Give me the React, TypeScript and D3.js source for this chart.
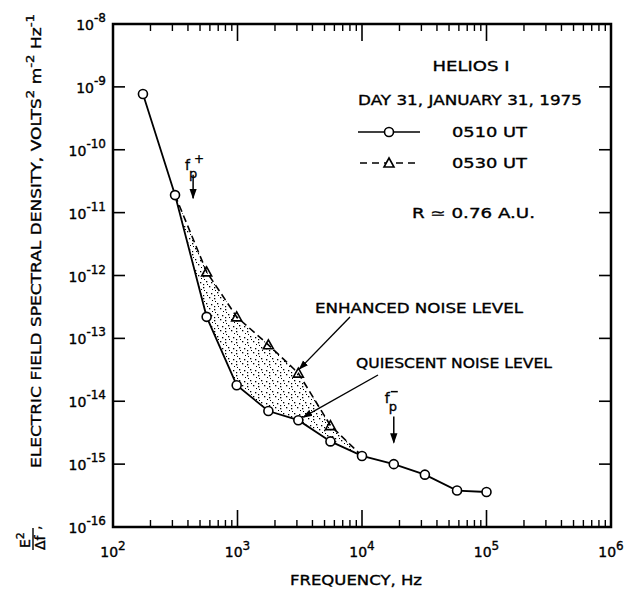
import React from "react";
import * as d3 from "d3";

// Quiescent noise level (0510 UT)
const freqQ = [174, 315, 565, 985, 1770, 3080, 5580, 10000, 18000, 32000, 58000, 100000];
const psdQ = [7.7e-10, 1.9e-11, 2.2e-13, 1.8e-14, 7.0e-15, 5.0e-15, 2.3e-15, 1.35e-15, 1.0e-15, 6.8e-16, 3.8e-16, 3.6e-16];
// Enhanced noise level (0530 UT)
const freqE = [315, 565, 985, 1770, 3080, 5580, 10000];
const psdE = [1.9e-11, 1.14e-12, 2.2e-13, 7.9e-14, 2.8e-14, 4.1e-15, 1.35e-15];
const triIdx = [1, 2, 3, 4, 5];

const xTickExp = [2, 3, 4, 5, 6];
const yTickExp = [-8, -9, -10, -11, -12, -13, -14, -15, -16];

const W = 632, H = 599;
const M = { left: 113, right: 611, top: 24, bottom: 527 };
const FONT = "'DejaVu Sans', sans-serif";
const TS = { stroke: "#000", strokeWidth: 0.35 };

export default function App() {
  const x = d3.scaleLog().domain([1e2, 1e6]).range([M.left, M.right]);
  const y = d3.scaleLog().domain([1e-16, 1e-8]).range([M.bottom, M.top]);

  const q = freqQ.map((f, i) => [x(f), y(psdQ[i])] as [number, number]);
  const e = freqE.map((f, i) => [x(f), y(psdE[i])] as [number, number]);
  const line = d3.line();

  const qSub = freqQ
    .map((f, i) => [f, psdQ[i]])
    .filter(([f]) => f >= freqE[0] && f <= freqE[freqE.length - 1])
    .map(([f, p]) => [x(f), y(p)] as [number, number]);
  const region = [...e, ...qSub.slice().reverse()];

  const minorX: number[] = [];
  for (let d = 2; d < 6; d++) for (let k = 2; k <= 9; k++) minorX.push(k * Math.pow(10, d));

  const tri = (cx: number, cy: number, s = 5) =>
    `M${cx},${cy - s}L${cx + s},${cy + s * 0.8}L${cx - s},${cy + s * 0.8}Z`;

  const fpPlus = 440, fpMinus = 18000;

  return (
    <svg width={W} height={H} style={{ position: "absolute", left: 0, top: 0, background: "#fff" }} fontFamily={FONT}>
      <defs>
        <pattern id="stip" width="11" height="11" patternUnits="userSpaceOnUse">
          <rect x="0" y="0" width="1.3" height="1.3" fill="#000" />
          <rect x="5" y="1" width="1.3" height="1.3" fill="#000" />
          <rect x="8" y="6" width="1.3" height="1.3" fill="#000" />
          <rect x="2" y="7" width="1.3" height="1.3" fill="#000" />
          <rect x="6" y="4" width="1" height="1" fill="#000" />
          <rect x="3" y="3" width="1" height="1" fill="#000" />
          <rect x="9" y="9" width="1" height="1" fill="#000" />
          <rect x="5" y="9" width="1.2" height="1.2" fill="#000" />
        </pattern>
        <marker id="ah" viewBox="0 0 10 10" refX="9" refY="5" markerWidth="7" markerHeight="7" orient="auto">
          <path d="M0,1.5L10,5L0,8.5Z" fill="#000" />
        </marker>
      </defs>
      <rect width={W} height={H} fill="#fff" />

      <path d={line(region) + "Z"} fill="url(#stip)" stroke="none" />

      <rect x={M.left} y={M.top} width={M.right - M.left} height={M.bottom - M.top} fill="none" stroke="#000" strokeWidth={2.5} />

      {xTickExp.map((d) => (
        <g key={"xt" + d}>
          <line x1={x(10 ** d)} x2={x(10 ** d)} y1={M.bottom} y2={M.bottom - 17} stroke="#000" strokeWidth={1.6} />
          <line x1={x(10 ** d)} x2={x(10 ** d)} y1={M.top} y2={M.top + 17} stroke="#000" strokeWidth={1.6} />
        </g>
      ))}
      {minorX.map((v) => (
        <g key={"mx" + v}>
          <line x1={x(v)} x2={x(v)} y1={M.bottom} y2={M.bottom - 7} stroke="#000" strokeWidth={1.4} />
          <line x1={x(v)} x2={x(v)} y1={M.top} y2={M.top + 7} stroke="#000" strokeWidth={1.4} />
        </g>
      ))}
      {yTickExp.map((d) => (
        <g key={"yt" + d}>
          <line x1={M.left} x2={M.left + 12} y1={y(10 ** d)} y2={y(10 ** d)} stroke="#000" strokeWidth={1.6} />
          <line x1={M.right} x2={M.right - 12} y1={y(10 ** d)} y2={y(10 ** d)} stroke="#000" strokeWidth={1.6} />
        </g>
      ))}

      <g {...TS}>
        {xTickExp.map((d) => (
          <text key={"xl" + d} x={x(10 ** d)} y={557} textAnchor="middle" fontSize={14}>
            <tspan>10</tspan>
            <tspan dy={-7} fontSize={12}>{d}</tspan>
          </text>
        ))}
        {yTickExp.map((d) => (
          <text key={"yl" + d} x={106} y={y(10 ** d) + 6} textAnchor="end" fontSize={14}>
            <tspan>10</tspan>
            <tspan dy={-8} fontSize={12}>{"-" + Math.abs(d)}</tspan>
          </text>
        ))}

        <text x={356} y={585} textAnchor="middle" fontSize={14} textLength={132} lengthAdjust="spacingAndGlyphs">FREQUENCY, Hz</text>
        <g transform="translate(41,468) rotate(-90)">
          <text x={0} y={0} fontSize={14} textLength={454} lengthAdjust="spacingAndGlyphs">
            <tspan>ELECTRIC FIELD SPECTRAL DENSITY, VOLTS</tspan>
            <tspan dy={-7} fontSize={11}>2</tspan>
            <tspan dy={7}> m</tspan>
            <tspan dy={-7} fontSize={11}>-2</tspan>
            <tspan dy={7}> Hz</tspan>
            <tspan dy={-7} fontSize={11}>-1</tspan>
          </text>
          <text x={-80} y={-11} fontSize={14}>
            <tspan>E</tspan>
            <tspan dy={-6} fontSize={11}>2</tspan>
          </text>
          <line x1={-82} x2={-60} y1={-8} y2={-8} stroke="#000" strokeWidth={1.4} />
          <text x={-82} y={4} fontSize={14}>Δf</text>
          <text x={-62} y={-1} fontSize={14}>,</text>
        </g>

        <text x={471} y={71} textAnchor="middle" fontSize={14} textLength={77} lengthAdjust="spacingAndGlyphs">HELIOS I</text>
        <text x={358} y={105} fontSize={14} textLength={224} lengthAdjust="spacingAndGlyphs">DAY 31, JANUARY 31, 1975</text>
        <text x={452} y={137} fontSize={14} textLength={75} lengthAdjust="spacingAndGlyphs">0510 UT</text>
        <text x={452} y={168} fontSize={14} textLength={75} lengthAdjust="spacingAndGlyphs">0530 UT</text>
        <text x={412} y={218} fontSize={14} textLength={123} lengthAdjust="spacingAndGlyphs">R ≃ 0.76 A.U.</text>

        <text x={x(fpPlus) - 8} y={y(5.5e-11) + 4} fontSize={14}>f</text>
        <text x={x(fpPlus) - 4} y={y(5.5e-11) + 12} fontSize={13}>p</text>
        <text x={x(fpPlus) + 1} y={y(5.5e-11) - 3} fontSize={12}>+</text>
        <text x={x(fpMinus) - 9} y={y(1.1e-14) + 4} fontSize={14}>f</text>
        <text x={x(fpMinus) - 5} y={y(1.1e-14) + 12} fontSize={13}>p</text>

        <text x={315} y={313} fontSize={14} textLength={208} lengthAdjust="spacingAndGlyphs">ENHANCED NOISE LEVEL</text>
        <text x={356} y={368} fontSize={14} textLength={196} lengthAdjust="spacingAndGlyphs">QUIESCENT NOISE LEVEL</text>
      </g>

      <path d={line(e) || ""} fill="none" stroke="#000" strokeWidth={1.6} strokeDasharray="7,4" />
      <path d={line(q) || ""} fill="none" stroke="#000" strokeWidth={1.8} />
      {triIdx.map((i) => (
        <path key={"tr" + i} d={tri(e[i][0], e[i][1])} fill="none" stroke="#000" strokeWidth={1.6} />
      ))}
      {q.map(([cx, cy], i) => (
        <circle key={"c" + i} cx={cx} cy={cy} r={4.5} fill="#fff" stroke="#000" strokeWidth={1.6} />
      ))}

      <line x1={358} x2={420} y1={132} y2={132} stroke="#000" strokeWidth={1.6} />
      <circle cx={389} cy={132} r={4.5} fill="#fff" stroke="#000" strokeWidth={1.6} />
      <line x1={360} x2={420} y1={163} y2={163} stroke="#000" strokeWidth={1.6} strokeDasharray="7,5" />
      <path d={tri(389, 163)} fill="#fff" stroke="#000" strokeWidth={1.6} />

      <line x1={x(fpPlus)} x2={x(fpPlus)} y1={y(4e-11)} y2={y(1.7e-11)} stroke="#000" strokeWidth={1.5} markerEnd="url(#ah)" />
      <line x1={x(fpMinus) - 3} x2={x(fpMinus) + 4} y1={y(1.1e-14) - 7} y2={y(1.1e-14) - 7} stroke="#000" strokeWidth={1.5} />
      <line x1={x(fpMinus)} x2={x(fpMinus)} y1={y(5.7e-15)} y2={y(2.2e-15)} stroke="#000" strokeWidth={1.5} markerEnd="url(#ah)" />

      <line x1={350} x2={x(freqE[4]) + 1} y1={317} y2={y(psdE[4]) - 4} stroke="#000" strokeWidth={1.4} markerEnd="url(#ah)" />
      <line x1={378} x2={x(freqQ[5]) + 5} y1={375} y2={y(psdQ[5]) - 3} stroke="#000" strokeWidth={1.4} markerEnd="url(#ah)" />
    </svg>
  );
}
